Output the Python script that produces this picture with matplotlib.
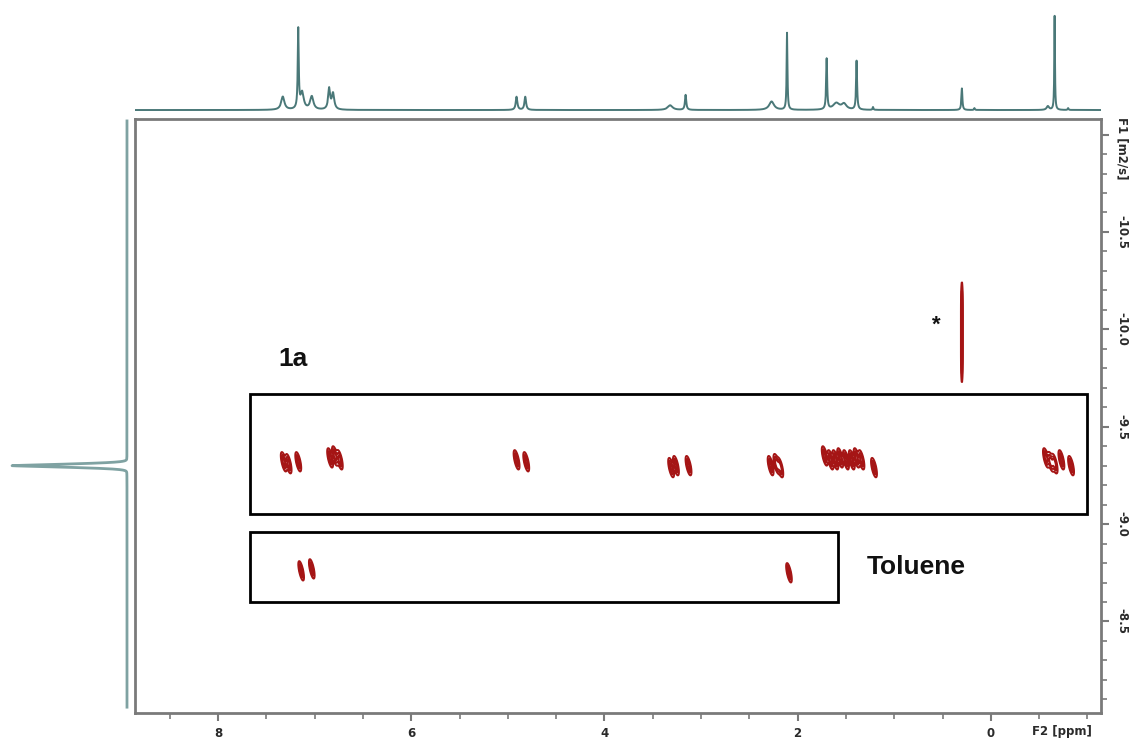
import numpy as np
import matplotlib
matplotlib.use("Agg")
import matplotlib.pyplot as plt
from matplotlib.patches import Rectangle
from matplotlib.ticker import MultipleLocator, FixedLocator

plt.rcParams["axes.unicode_minus"] = False

# ---------------- data ----------------
# 1D 1H spectrum (F2 projection): peak position (ppm), relative height, half-width (ppm)
spec_ppm = [7.33, 7.17, 7.13, 7.03, 6.85, 6.81, 4.91, 4.82, 3.32, 3.16, 2.27, 2.11,
            1.70, 1.60, 1.52, 1.39, 1.22, 0.30, 0.17, -0.59, -0.66, -0.80]
spec_int = [0.14, 0.84, 0.18, 0.14, 0.22, 0.17, 0.14, 0.14, 0.05, 0.16, 0.09, 0.82,
            0.54, 0.07, 0.06, 0.52, 0.03, 0.23, 0.02, 0.04, 1.00, 0.02]
spec_width = [0.02, 0.006, 0.02, 0.02, 0.012, 0.015, 0.01, 0.01, 0.03, 0.008, 0.03, 0.005,
              0.006, 0.04, 0.03, 0.006, 0.005, 0.006, 0.005, 0.015, 0.004, 0.005]

# DOSY cross peaks of compound 1a: chemical shift (ppm) and log D (m2/s)
cross_1a_ppm = [7.32, 7.27, 7.17, 6.84, 6.79, 6.74, 4.91, 4.81, 3.31, 3.26, 3.13,
                2.28, 2.22, 2.18, 1.72, 1.66, 1.61, 1.56, 1.50, 1.44, 1.39, 1.34,
                1.21, -0.57, -0.62, -0.66, -0.73, -0.83]
cross_1a_logd = [-9.32, -9.31, -9.32, -9.34, -9.35, -9.33, -9.33, -9.32, -9.29, -9.30, -9.30,
                 -9.30, -9.31, -9.29, -9.35, -9.33, -9.33, -9.34, -9.33, -9.33, -9.34, -9.33,
                 -9.29, -9.34, -9.32, -9.31, -9.33, -9.30]

# Toluene cross peaks
cross_tol_ppm = [7.14, 7.03, 2.09]
cross_tol_logd = [-8.76, -8.77, -8.75]

# Elongated signal marked with *
star_ppm = [0.30]
star_logd = [-9.985]

# F1 projection (diffusion dimension)
proj_logd = [-9.30]
proj_int = [1.0]

x_ticks = [8, 6, 4, 2, 0]
y_ticks = [-10.5, -10.0, -9.5, -9.0, -8.5]

# ---------------- figure layout ----------------
W, H = 1136, 742
fig = plt.figure(figsize=(W / 100, H / 100), dpi=100)


def frac(x0, y0, x1, y1):
    return [x0 / W, 1 - y1 / H, (x1 - x0) / W, (y1 - y0) / H]


XLIM = (8.86, -1.14)
YLIM = (-8.03, -11.08)

ax = fig.add_axes(frac(135, 119, 1101, 713))
ax_top = fig.add_axes(frac(135, 0, 1101, 112))
ax_left = fig.add_axes(frac(0, 119, 135, 713))

# ---------------- 2D contours ----------------
gx = np.linspace(XLIM[1], XLIM[0], 2400)
gy = np.linspace(YLIM[1], YLIM[0], 1100)
X, Y = np.meshgrid(gx, gy)
Z = np.zeros_like(X)


def add_peaks(ppms, logds, sx, sy, shear=-0.4, power=2):
    global Z
    for p, d in zip(ppms, logds):
        dy = Y - d
        u = X - p - shear * dy
        Z += np.exp(-0.5 * ((u / sx) ** 2 + np.abs(dy / sy) ** power))


add_peaks(cross_1a_ppm, cross_1a_logd, 0.014, 0.030)
add_peaks(cross_tol_ppm, cross_tol_logd, 0.013, 0.030)
add_peaks(star_ppm, star_logd, 0.006, 0.20, shear=0.0, power=4)

ax.contour(X, Y, Z, levels=[0.25, 0.5, 0.75], colors="#a51515", linewidths=1.4)

# boxes around the species
ax.add_patch(Rectangle((-1.0, -9.67), 8.67, 0.62, fill=False, ec="black", lw=2, zorder=3))
ax.add_patch(Rectangle((1.58, -8.96), 6.09, 0.36, fill=False, ec="black", lw=2, zorder=3))

lab_font = dict(family=["Liberation Sans", "DejaVu Sans"], fontweight="bold", color="#111111")
ax.text(7.22, -9.85, "1a", fontsize=19, ha="center", va="center", **lab_font)
ax.text(1.28, -8.78, "Toluene", fontsize=19, ha="left", va="center", **lab_font)
ax.text(0.56, -10.02, "*", fontsize=16, ha="center", va="center", **lab_font)

ax.set_xlim(*XLIM)
ax.set_ylim(*YLIM)

spine_col = "#7a7a7a"
for s in ax.spines.values():
    s.set_color(spine_col)
    s.set_linewidth(2)

ax.xaxis.set_major_locator(FixedLocator(x_ticks))
ax.xaxis.set_minor_locator(MultipleLocator(0.5))
ax.set_xticklabels([str(t) for t in x_ticks])
ax.yaxis.tick_right()
ax.yaxis.set_major_locator(FixedLocator([-11.0] + y_ticks))
ax.yaxis.set_minor_locator(MultipleLocator(0.1))
ax.set_yticklabels([""] + ["%.1f" % t for t in y_ticks])

tick_font = dict(family=["DejaVu Sans"], fontweight="bold", fontsize=8.5, color="#2a2a2a")
ax.tick_params(axis="both", which="major", length=6, width=1.5, color=spine_col, pad=4)
ax.tick_params(axis="both", which="minor", length=4, width=1.2, color=spine_col)
for lbl in ax.get_xticklabels():
    lbl.set(**tick_font)
for lbl in ax.get_yticklabels():
    lbl.set(**tick_font)
    lbl.set_rotation(-90)
    lbl.set_va("center")

fig.text(1062 / W, 1 - 731 / H, "F2 [ppm]", ha="center", va="center", **tick_font)
fig.text(1122 / W, 1 - 148 / H, "F1 [m2/s]", ha="center", va="center", rotation=-90, **tick_font)

# ---------------- top 1D spectrum ----------------
sx_ = np.linspace(XLIM[1], XLIM[0], 14000)
spec = np.zeros_like(sx_)
for p, h, g in zip(spec_ppm, spec_int, spec_width):
    spec += h * g ** 2 / ((sx_ - p) ** 2 + g ** 2)
ax_top.plot(sx_, spec, color="#4a7878", lw=1.4, solid_joinstyle="round")
ax_top.set_xlim(*XLIM)
ax_top.set_ylim(-0.021, 1.17)
ax_top.axis("off")

# ---------------- left F1 projection ----------------
py = np.linspace(-11.07, -8.06, 6000)
proj = np.zeros_like(py)
for d, h in zip(proj_logd, proj_int):
    proj += h * (0.75 * np.exp(-0.5 * ((py - d) / 0.009) ** 2)
                 + 0.25 * 0.003 ** 2 / ((py - d) ** 2 + 0.003 ** 2))
ax_left.plot(proj, py, color="#7fa2a2", lw=2)
ax_left.set_xlim(1.104, -0.0696)
ax_left.set_ylim(*YLIM)
ax_left.axis("off")

fig.savefig("out.png", dpi=100, facecolor="white")
